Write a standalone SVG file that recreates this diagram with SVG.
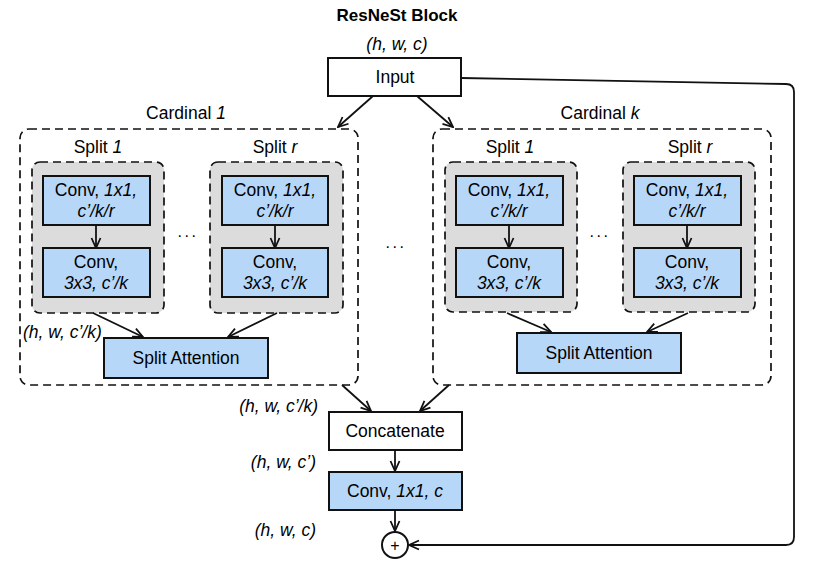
<svg xmlns="http://www.w3.org/2000/svg" width="817" height="574" viewBox="0 0 817 574">
  <style>
    text { font-family: "Liberation Sans", Arial, sans-serif; font-size: 17.5px; fill: #000; }
    .c { text-anchor: middle; }
    .r { text-anchor: end; }
    .i { font-style: italic; }
    .title { font-weight: bold; font-size: 17px; }
    .dots { letter-spacing: 2.5px; font-size: 16px; }
    .box { stroke: #111; stroke-width: 2; }
    .white { fill: #fff; }
    .blue { fill: #b7d7f9; }
    .split { fill: #dcdcdc; stroke: #111; stroke-width: 1.7; stroke-dasharray: 8 5; }
    .card { fill: none; stroke: #111; stroke-width: 1.7; stroke-dasharray: 8 5; }
    .conn { fill: none; stroke: #111; stroke-width: 1.8; }
    .arrow { marker-end: url(#arr); }
  </style>
  <defs>
    <marker id="arr" viewBox="0 0 12 12" refX="11" refY="6" markerWidth="12" markerHeight="12" markerUnits="userSpaceOnUse" orient="auto">
      <path d="M1,1.5 L11,6 L1,10.5" fill="none" stroke="#111" stroke-width="1.8"/>
    </marker>
  </defs>

  <rect width="817" height="574" fill="#fff"/>

  <!-- title and input shape -->
  <text class="c title" x="397" y="21">ResNeSt Block</text>
  <text class="c i" x="397" y="50">(h, w, c)</text>

  <g id="input">
    <rect class="box white" x="328" y="58" width="133" height="38"/>
    <text class="c" x="395" y="83">Input</text>
  </g>

  <!-- cardinal 1 -->
  <g id="cardinal-1">
    <rect class="card" x="20" y="129" width="338" height="256" rx="9"/>
    <text class="c" x="186" y="119">Cardinal <tspan class="i">1</tspan></text>
  </g>
  <g id="c1-split-1">
    <text class="c" x="98" y="153">Split <tspan class="i">1</tspan></text>
    <rect class="split" x="32" y="162" width="132" height="151" rx="8"/>
  </g>
  <g id="c1-s1-conv1">
    <rect class="box blue" x="43" y="176" width="107" height="49"/>
    <text class="c" x="96" y="196">Conv, <tspan class="i">1x1,</tspan></text>
    <text class="c i" x="96" y="217">c’/k/r</text>
  </g>
  <g id="c1-s1-conv3">
    <rect class="box blue" x="43" y="248" width="107" height="49"/>
    <text class="c" x="96" y="268">Conv,</text>
    <text class="c i" x="96" y="289">3x3, c’/k</text>
  </g>
  <g id="c1-split-r">
    <text class="c" x="275" y="153">Split <tspan class="i">r</tspan></text>
    <rect class="split" x="210" y="162" width="133" height="151" rx="8"/>
  </g>
  <g id="c1-sr-conv1">
    <rect class="box blue" x="222" y="176" width="106" height="49"/>
    <text class="c" x="275" y="196">Conv, <tspan class="i">1x1,</tspan></text>
    <text class="c i" x="275" y="217">c’/k/r</text>
  </g>
  <g id="c1-sr-conv3">
    <rect class="box blue" x="222" y="248" width="106" height="49"/>
    <text class="c" x="275" y="268">Conv,</text>
    <text class="c i" x="275" y="289">3x3, c’/k</text>
  </g>
  <text class="c dots" x="188" y="237">...</text>
  <g id="c1-attention">
    <rect class="box blue" x="104" y="338" width="164" height="40"/>
    <text class="c" x="186" y="364">Split Attention</text>
  </g>
  <text class="i" x="23" y="338">(h, w, c’/k)</text>

  <!-- cardinal k -->
  <g id="cardinal-k">
    <rect class="card" x="433" y="129" width="338" height="256" rx="9"/>
    <text class="c" x="600" y="119">Cardinal <tspan class="i">k</tspan></text>
  </g>
  <g id="ck-split-1">
    <text class="c" x="510" y="153">Split <tspan class="i">1</tspan></text>
    <rect class="split" x="445" y="162" width="132" height="150" rx="8"/>
  </g>
  <g id="ck-s1-conv1">
    <rect class="box blue" x="456" y="176" width="107" height="49"/>
    <text class="c" x="509" y="196">Conv, <tspan class="i">1x1,</tspan></text>
    <text class="c i" x="509" y="217">c’/k/r</text>
  </g>
  <g id="ck-s1-conv3">
    <rect class="box blue" x="456" y="248" width="107" height="49"/>
    <text class="c" x="509" y="268">Conv,</text>
    <text class="c i" x="509" y="289">3x3, c’/k</text>
  </g>
  <g id="ck-split-r">
    <text class="c" x="690" y="153">Split <tspan class="i">r</tspan></text>
    <rect class="split" x="623" y="162" width="132" height="150" rx="8"/>
  </g>
  <g id="ck-sr-conv1">
    <rect class="box blue" x="634" y="176" width="107" height="49"/>
    <text class="c" x="687" y="196">Conv, <tspan class="i">1x1,</tspan></text>
    <text class="c i" x="687" y="217">c’/k/r</text>
  </g>
  <g id="ck-sr-conv3">
    <rect class="box blue" x="634" y="248" width="107" height="49"/>
    <text class="c" x="687" y="268">Conv,</text>
    <text class="c i" x="687" y="289">3x3, c’/k</text>
  </g>
  <text class="c dots" x="600" y="237">...</text>
  <g id="ck-attention">
    <rect class="box blue" x="517" y="333" width="164" height="40"/>
    <text class="c" x="599" y="359">Split Attention</text>
  </g>

  <text class="c dots" x="396" y="248">...</text>

  <!-- merge path -->
  <text class="r i" x="318" y="412">(h, w, c’/k)</text>
  <g id="concatenate">
    <rect class="box white" x="329" y="412" width="133" height="38"/>
    <text class="c" x="395" y="437">Concatenate</text>
  </g>
  <text class="r i" x="316" y="468">(h, w, c’)</text>
  <g id="conv-out">
    <rect class="box blue" x="329" y="472" width="133" height="38"/>
    <text class="c" x="395" y="497">Conv, <tspan class="i">1x1, c</tspan></text>
  </g>
  <text class="r i" x="316" y="536">(h, w, c)</text>
  <g id="add">
    <circle cx="395" cy="545" r="13" fill="#fff" stroke="#111" stroke-width="2"/>
    <text class="c" x="395" y="551" style="font-size:16px">+</text>
  </g>

  <!-- connectors -->
  <g id="connectors">
    <path class="conn arrow" d="M373,96 L338,127"/>
    <path class="conn arrow" d="M417,96 L453,127"/>
    <path class="conn arrow" d="M96,225 L96,248"/>
    <path class="conn arrow" d="M275,225 L275,248"/>
    <path class="conn arrow" d="M509,225 L509,248"/>
    <path class="conn arrow" d="M687,225 L687,248"/>
    <path class="conn arrow" d="M93,313 L143,337"/>
    <path class="conn arrow" d="M277,313 L228,337"/>
    <path class="conn arrow" d="M507,313 L551,332"/>
    <path class="conn arrow" d="M688,313 L647,332"/>
    <path class="conn arrow" d="M342,385 L371,411"/>
    <path class="conn arrow" d="M449,385 L420,411"/>
    <path class="conn arrow" d="M395,450 L395,471"/>
    <path class="conn arrow" d="M395,510 L395,531"/>
    <path class="conn arrow" d="M461,78 L786,84 Q794,84 794,92 L794,537 Q794,545 786,545 L409,545"/>
  </g>
</svg>
